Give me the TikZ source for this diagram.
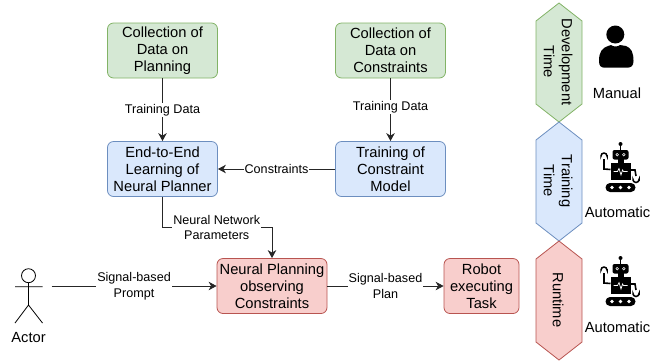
\documentclass[tikz,border=0pt]{standalone}
\usepackage{fontspec}
\setmainfont{Liberation Sans}
\usepackage{xcolor}
\usetikzlibrary{arrows.meta, positioning}
\definecolor{greenfill}{HTML}{D5E8D4}
\definecolor{greenline}{HTML}{82B366}
\definecolor{bluefill}{HTML}{DAE8FC}
\definecolor{blueline}{HTML}{6C8EBF}
\definecolor{redfill}{HTML}{F8CECC}
\definecolor{redline}{HTML}{B85450}
\tikzset{
    stagebox/.style={draw, rounded corners=6pt, line width=0.8pt, minimum width=110pt, minimum height=55pt,
        align=center, inner sep=0pt, font=\fontsize{14.7}{17}\selectfont},
    greenbox/.style={stagebox, fill=greenfill, draw=greenline},
    bluebox/.style={stagebox, fill=bluefill, draw=blueline},
    redbox/.style={stagebox, fill=redfill, draw=redline},
    flow/.style={draw=black!85, line width=0.8pt},
    flowtip/.style={flow, -{Stealth[length=8pt, width=8.5pt, inset=2.5pt]}},
    flowlabel/.style={fill=white, inner sep=1pt, align=center, font=\fontsize{12.6}{15.5}\selectfont},
    sidelabel/.style={inner sep=0pt, font=\fontsize{14.7}{17}\selectfont},
    hexlabel/.style={rotate=-90, align=center, inner sep=0pt, font=\fontsize{14.7}{18}\selectfont},
}
% one hexagon of the time column: fill, line, y of the top tip
\newcommand{\timehex}[3]{%
    \draw[line width=0.8pt, fill=#1, draw=#2] (559,-#3) -- (582,-#3-18) -- (582,-#3-101)
        -- (559,-#3-119) -- (536,-#3-101) -- (536,-#3-18) -- cycle;}
% robot icon around a head position
\newcommand{\robot}[2]{%
    \begin{scope}[shift={(#1,-#2)}, yscale=-1]
        \fill (0,-11) circle (2);
        \draw[line width=1pt] (0,-11) -- (0,-5);
        \fill[rounded corners=2pt] (-8,-5) rectangle (8,4.5);
        \fill[white] (-3.3,-0.3) circle (1.7) (3.3,-0.3) circle (1.7);
        \fill (-3.3,-0.3) circle (0.7) (3.3,-0.3) circle (0.7);
        \fill (-3,4) rectangle (3,9);
        \fill (-10,8.3) rectangle (10,25);
        \draw[white, line width=0.7pt] (-7,16.5) -- (-3,16.5) -- (-1.5,13.5) -- (0.5,20) -- (2,15) -- (3,16.5) -- (7,16.5);
        \draw[line width=1.6pt] (-10,14.5) -- (-16.5,14) -- (-16.5,4);
        \draw[line width=1.5pt] (-19.5,0.2) -- (-19.5,1) arc (180:360:3) -- (-13.5,0.2);
        \draw[line width=1.6pt] (10,15) -- (14.5,15) -- (15.5,21);
        \draw[line width=1.5pt] (12.5,26) -- (12.5,24.5) arc (180:0:3) -- (18.5,26);
        \fill[rounded corners=4.5pt] (-15,28) rectangle (15,37);
        \foreach \wheelx in {-8.5,0,8.5}
            \fill[white] (\wheelx,32.5) circle (1.9);
    \end{scope}}

\begin{document}
\begin{tikzpicture}[x=1pt, y=1pt]
    \useasboundingbox (0,0) rectangle (668,-360);

    \node[greenbox] (planData) at (162.5,-50.5) {Collection of\\Data on\\Planning};
    \node[greenbox] (consData) at (390.5,-50.5) {Collection of\\Data on\\Constraints};
    \node[bluebox] (learning) at (162.5,-169) {End-to-End\\Learning of\\Neural Planner};
    \node[bluebox] (consModel) at (390.5,-169) {Training of\\Constraint\\Model};
    \node[redbox] (planner) at (272,-286) {Neural Planning\\observing\\Constraints};
    \node[redbox, minimum width=75pt] (robotTask) at (481.5,-286) {Robot\\executing\\Task};

    % actor
    \draw[line width=0.8pt] (28.5,-275.7) circle (7);
    \draw[line width=0.8pt] (28.5,-282.7) -- (28.5,-305) (15,-286.7) -- (42.5,-286.7)
        (15,-323) -- (28.5,-305) -- (42.5,-323);
    \coordinate (actorHand) at (51.5,-286);
    \node[sidelabel] (actorLabel) at (28.5,-338) {Actor};

    \draw[flowtip] (planData) -- (learning) node[flowlabel, pos=0.5] (planEdge) {Training Data};
    \draw[flowtip] (consData) -- (consModel) node[flowlabel, pos=0.46] (consEdge) {Training Data};
    \draw[flowtip] (consModel) -- (learning) node[flowlabel, pos=0.5] (consLabel) {Constraints};
    \draw[flowtip] (learning.south) |- (272,-227) -- (planner.north);
    \node[flowlabel] (paramLabel) at (216.7,-227.5) {Neural Network\\Parameters};
    \draw[flowtip] (actorHand) -- (planner.west |- actorHand) node[flowlabel, pos=0.5] (promptLabel) {Signal-based\\Prompt};
    \draw[flowtip] (planner) -- (robotTask) node[flowlabel, pos=0.5] (planLabel) {Signal-based\\Plan};

    % time column
    \timehex{greenfill}{greenline}{3}
    \timehex{bluefill}{blueline}{122}
    \timehex{redfill}{redline}{241}
    \node[hexlabel] (devTime) at (558,-62) {Development\\Time};
    \node[hexlabel] (trainTime) at (558,-181) {Training\\Time};
    \node[hexlabel] (runTime) at (558,-300) {Runtime};

    % manual icon
    \fill (599,-61) .. controls (599,-52) and (602,-48) .. (608,-46) -- (611,-45)
        .. controls (613,-47) and (618,-47) .. (620,-45) -- (626,-46)
        .. controls (631,-48) and (633.5,-52) .. (633.5,-61)
        .. controls (633.5,-66) and (631,-67.7) .. (627,-67.7) -- (605,-67.7)
        .. controls (601,-67.7) and (599,-66) .. (599,-61) -- cycle;
    \fill (615.3,-34.5) circle (9);
    \node[sidelabel] (manualLabel) at (617,-93) {Manual};

    \robot{620.5}{155}
    \node[sidelabel] (autoTrain) at (617.5,-212) {Automatic};
    \robot{620.5}{269}
    \node[sidelabel] (autoRun) at (617.5,-327) {Automatic};
\end{tikzpicture}
\end{document}
